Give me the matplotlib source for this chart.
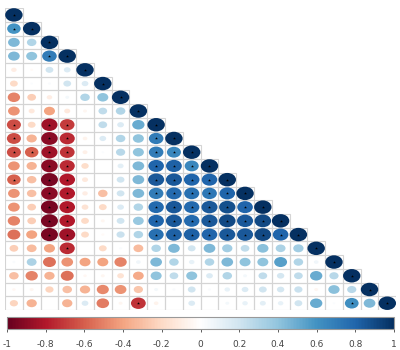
import numpy as np
import matplotlib
matplotlib.use("Agg")
import matplotlib.pyplot as plt
from matplotlib.patches import Ellipse, Rectangle
from matplotlib.colors import LinearSegmentedColormap, Normalize
from matplotlib.colorbar import ColorbarBase

# lower triangle of the correlation matrix, row by row (diagonal included)
corr_rows = [
    [1],
    [0.6, 1],
    [0.45, 0.3, 1],
    [0.45, 0.4, 0.7, 1],
    [-0.1, -0.03, 0.2, 0.15, 1],
    [-0.2, 0.02, 0.03, 0.2, 0.15, 1],
    [-0.5, -0.25, -0.1, 0.05, 0.3, 0.4, 1],
    [-0.45, -0.12, -0.4, -0.12, -0.05, 0.25, 0.3, 1],
    [-0.65, -0.2, -0.85, -0.7, 0, 0.25, 0.15, 0.5, 1],
    [-0.65, -0.35, -0.9, -0.75, -0.07, 0.15, 0.3, 0.4, 0.7, 1],
    [-0.65, -0.6, -0.85, -0.72, -0.08, 0.02, 0.28, 0.4, 0.7, 0.65, 1],
    [-0.45, -0.35, -0.9, -0.75, -0.18, 0, 0.12, 0.45, 0.8, 0.82, 0.65, 1],
    [-0.6, -0.3, -0.95, -0.8, -0.12, 0, 0.2, 0.45, 0.85, 0.85, 0.8, 0.8, 1],
    [-0.45, -0.3, -0.9, -0.8, -0.1, -0.3, 0.2, 0.45, 0.7, 0.78, 0.75, 0.72, 0.8, 1],
    [-0.45, -0.25, -0.95, -0.8, -0.15, -0.2, 0.15, 0.3, 0.78, 0.85, 0.78, 0.85, 0.88, 0.8, 1],
    [-0.5, -0.25, -0.95, -0.8, -0.2, -0.05, 0.2, 0.38, 0.8, 0.85, 0.78, 0.85, 0.9, 0.85, 0.9, 1],
    [-0.55, -0.4, -0.95, -0.85, -0.2, -0.03, 0.22, 0.3, 0.75, 0.82, 0.82, 0.8, 0.85, 0.85, 0.9, 0.8, 1],
    [-0.25, -0.32, -0.4, -0.75, 0, -0.2, 0.03, -0.32, 0.3, 0.45, 0.2, 0.45, 0.35, 0.25, 0.42, 0.32, 0.35, 1],
    [0.03, 0.32, -0.55, -0.45, -0.4, -0.4, -0.5, 0.07, 0.45, 0.3, 0.1, 0.3, 0.45, 0.4, 0.4, 0.55, 0.3, 0.07, 1],
    [-0.3, -0.5, -0.35, -0.55, -0.04, -0.05, -0.15, -0.38, 0.4, 0.25, 0.4, 0.15, 0.3, 0.05, 0.25, 0.18, 0.25, 0.5, 0.28, 1],
    [-0.04, -0.05, -0.22, -0.3, -0.35, -0.48, -0.45, -0.28, 0.05, 0.03, 0.2, 0.03, 0.1, 0.15, 0.2, 0.18, 0.22, -0.05, 0.42, 0.28, 1],
    [-0.22, -0.35, 0, -0.35, 0.15, -0.52, -0.05, -0.72, -0.07, 0, 0.15, 0, 0.05, 0.1, 0.12, 0.1, 0.2, 0.5, 0.02, 0.62, 0.45, 1],
]
sig_level = 0.58
cbar_ticks = [-1, -0.8, -0.6, -0.4, -0.2, 0, 0.2, 0.4, 0.6, 0.8, 1]
cbar_labels = ["-1", "-0.8", "-0.6", "-0.4", "-0.2", "0", "0.2", "0.4", "0.6", "0.8", "1"]

# corrplot-style red/blue palette
col2 = ["#67001F", "#B2182B", "#D6604D", "#F4A582", "#FDDBC7", "#FFFFFF",
        "#D1E5F0", "#92C5DE", "#4393C3", "#2166AC", "#053061"]
cmap = LinearSegmentedColormap.from_list("col2", col2)
norm = Normalize(-1, 1)

n = len(corr_rows)
fig = plt.figure(figsize=(4.0, 3.5), dpi=100)
ax = fig.add_axes([0.0125, 0.114, 0.978, 0.863])
ax.set_xlim(0.5, n + 0.5)
ax.set_ylim(n + 0.5, 0.5)
ax.axis("off")

for i, row in enumerate(corr_rows):
    y = i + 1
    for j, r in enumerate(row):
        x = j + 1
        ax.add_patch(Rectangle((x - 0.5, y - 0.5), 1, 1, fill=False,
                               edgecolor="#d4d4d4", lw=0.8, zorder=1))
        d = 0.98 * np.sqrt(abs(r))
        if d > 0:
            ax.add_patch(Ellipse((x, y), d, d, facecolor=cmap(norm(r)),
                                 edgecolor="none", zorder=2))
        if abs(r) >= sig_level:
            ax.plot(x, y, marker="*", ms=2.2, color="black", mew=0, zorder=3)

# colour legend along the bottom
cax = fig.add_axes([0.0175, 0.06, 0.9675, 0.034])
cb = ColorbarBase(cax, cmap=cmap, norm=norm, orientation="horizontal", ticks=cbar_ticks)
cb.set_ticklabels(cbar_labels)
cb.outline.set_edgecolor("#999999")
cb.outline.set_linewidth(0.8)
cax.tick_params(labelsize=6.5, colors="#444444", length=2, width=0.6, pad=6)

fig.savefig("out.png", dpi=100, facecolor="white")
